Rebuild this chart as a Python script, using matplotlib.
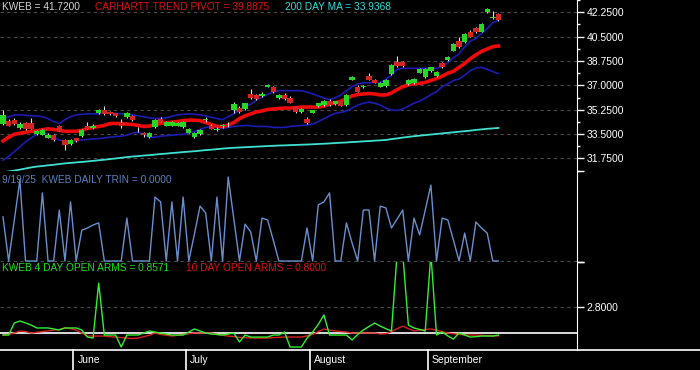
import matplotlib
matplotlib.use("Agg")
import matplotlib.pyplot as plt
from matplotlib.lines import Line2D

plt.rcParams['font.family'] = ['Liberation Sans', 'DejaVu Sans']

# ---- data (one value per trading day, 13 May .. 19 Sep 2025) ----
opens = [34.25, 34.46, 34.50, 33.95, 34.30, 34.30, 33.50, 33.45, 33.25, 33.40,
         34.05, 33.07, 32.80, 33.20, 33.35, 34.10, 33.97, 35.00, 35.20, 35.10,
         35.00, 34.30, 34.70, 34.80, 33.82, 33.60, 33.30, 34.00, 34.60, 34.10,
         34.10, 34.10, 34.00, 33.60, 33.30, 33.50, 34.52, 34.10, 33.82, 34.05,
         34.12, 35.25, 35.40, 35.30, 36.40, 36.30, 36.20, 36.90, 36.90, 36.10,
         36.30, 36.10, 35.50, 35.10, 34.60, 35.05, 35.50, 35.60, 35.90, 35.65,
         35.85, 35.60, 37.40, 36.90, 36.85, 37.70, 37.40, 36.90, 36.95, 37.80,
         38.70, 38.70, 37.10, 37.15, 37.90, 37.60, 38.00, 37.65, 38.60, 38.80,
         39.50, 40.15, 40.10, 40.85, 41.15, 40.85, 42.25, 41.80, 42.10]
highs = [35.20, 34.60, 34.62, 34.35, 34.40, 34.65, 33.80, 33.85, 33.55, 33.50,
         34.15, 33.15, 33.15, 33.25, 33.85, 34.40, 34.20, 35.30, 35.50, 35.15,
         35.05, 34.55, 35.10, 34.90, 34.00, 33.65, 33.65, 34.55, 34.75, 34.45,
         34.45, 34.35, 34.45, 33.95, 33.65, 33.85, 34.70, 34.20, 34.00, 34.25,
         34.35, 35.80, 35.50, 35.75, 36.75, 36.35, 36.50, 37.10, 36.95, 36.35,
         36.45, 36.20, 35.55, 35.35, 34.70, 35.25, 35.75, 35.95, 36.00, 35.90,
         35.90, 36.40, 37.65, 37.00, 37.00, 37.90, 37.45, 37.25, 37.45, 38.50,
         39.10, 38.75, 37.45, 37.50, 38.25, 38.25, 38.35, 38.00, 38.70, 39.10,
         40.05, 40.50, 40.75, 40.95, 41.20, 41.45, 42.55, 42.30, 42.20]
lows = [34.15, 34.05, 34.15, 33.85, 33.80, 33.85, 33.45, 33.40, 33.20, 33.00,
        33.70, 32.38, 32.75, 32.95, 33.30, 33.85, 33.90, 34.95, 34.90, 34.90,
        34.75, 33.95, 34.65, 34.45, 33.65, 33.30, 33.25, 33.95, 34.35, 34.05,
        34.05, 34.05, 33.95, 33.55, 33.25, 33.45, 34.40, 33.85, 33.70, 33.95,
        34.00, 35.05, 35.00, 35.25, 36.05, 35.95, 36.15, 36.85, 36.45, 36.05,
        35.95, 35.70, 35.05, 35.05, 34.25, 35.00, 35.45, 35.55, 35.55, 35.60,
        35.50, 35.55, 37.35, 36.50, 36.80, 37.35, 37.15, 36.85, 36.90, 37.75,
        38.35, 38.35, 37.05, 37.10, 37.85, 37.55, 37.95, 37.60, 38.25, 38.75,
        39.45, 39.70, 40.05, 40.45, 40.75, 40.80, 42.20, 41.75, 41.65]
closes = [34.88, 34.11, 34.20, 34.25, 33.90, 33.90, 33.70, 33.77, 33.45, 33.05,
          33.75, 32.73, 33.07, 33.00, 33.80, 33.90, 34.10, 35.20, 34.95, 34.95,
          34.80, 34.10, 35.00, 34.50, 33.78, 33.40, 33.60, 34.50, 34.40, 34.40,
          34.40, 34.30, 34.40, 33.90, 33.60, 33.80, 34.58, 33.90, 33.88, 34.15,
          34.18, 35.65, 35.10, 35.70, 36.10, 36.00, 36.40, 37.00, 36.50, 36.30,
          36.00, 35.75, 35.10, 35.30, 34.30, 35.20, 35.70, 35.90, 35.60, 35.85,
          35.55, 36.30, 37.60, 36.55, 36.95, 37.40, 37.20, 37.20, 37.40, 38.45,
          38.40, 38.40, 37.40, 37.45, 38.20, 38.20, 38.30, 37.95, 38.30, 39.05,
          40.00, 39.75, 40.70, 40.50, 40.80, 41.40, 42.50, 41.90, 41.72]
trend_pivot = [33.01, 33.28, 33.49, 33.56, 33.63, 33.70, 33.74, 33.81, 33.88, 33.84,
               33.77, 33.70, 33.70, 33.70, 33.77, 33.91, 33.98, 34.05, 34.12, 34.26,
               34.26, 34.26, 34.22, 34.19, 34.12, 34.05, 34.08, 34.19, 34.26, 34.33,
               34.36, 34.40, 34.47, 34.50, 34.50, 34.47, 34.33, 34.19, 34.05, 34.05,
               34.15, 34.33, 34.61, 34.81, 34.95, 35.09, 35.16, 35.27, 35.30, 35.34,
               35.37, 35.37, 35.40, 35.44, 35.44, 35.44, 35.44, 35.51, 35.65, 35.75,
               35.86, 36.03, 36.24, 36.34, 36.38, 36.41, 36.38, 36.31, 36.31, 36.45,
               36.69, 36.90, 37.04, 37.11, 37.14, 37.21, 37.35, 37.49, 37.66, 37.87,
               38.01, 38.29, 38.57, 38.91, 39.19, 39.44, 39.61, 39.78, 39.82]
upper_band = [34.61, 34.74, 34.88, 34.88, 34.85, 34.81, 34.81, 34.74, 34.61, 34.40,
              34.26, 34.54, 34.74, 34.88, 34.92, 34.95, 34.95, 34.95, 35.02, 35.02,
              34.99, 34.95, 34.95, 34.88, 34.81, 34.74, 34.67, 34.61, 34.64, 34.67,
              34.78, 34.88, 34.92, 34.95, 34.92, 34.88, 34.81, 34.71, 34.61, 34.54,
              34.74, 34.95, 35.23, 35.51, 35.65, 35.93, 36.14, 36.36, 36.52, 36.62,
              36.62, 36.62, 36.62, 36.62, 36.52, 36.38, 36.24, 36.10, 35.96, 36.10,
              36.31, 36.62, 36.90, 37.11, 37.18, 37.18, 37.21, 37.21, 37.45, 37.73,
              38.15, 38.22, 38.22, 38.22, 38.22, 38.22, 38.22, 38.22, 38.32, 38.64,
              38.98, 39.26, 39.75, 40.17, 40.37, 40.72, 41.07, 41.49, 41.70]
lower_band = [31.62, 31.90, 32.24, 32.59, 32.94, 33.22, 33.49, 33.63, 33.49, 33.28,
              33.08, 32.94, 32.94, 33.01, 33.08, 33.11, 33.15, 33.18, 33.22, 33.28,
              33.32, 33.35, 33.42, 33.56, 33.63, 33.49, 33.28, 33.28, 33.35, 33.39,
              33.42, 33.46, 33.49, 33.56, 33.70, 33.84, 33.98, 34.05, 33.98, 33.91,
              33.98, 34.05, 34.09, 34.12, 34.09, 34.05, 34.05, 34.05, 33.98, 33.98,
              33.98, 34.05, 34.09, 34.12, 34.15, 34.22, 34.40, 34.61, 34.81, 34.99,
              35.06, 35.16, 35.37, 35.58, 35.72, 35.79, 35.72, 35.58, 35.37, 35.23,
              35.20, 35.30, 35.51, 35.72, 35.86, 36.07, 36.34, 36.55, 36.90, 37.11,
              37.35, 37.45, 37.73, 38.05, 38.25, 38.29, 38.15, 37.98, 37.84]
ma200 = [30.76, 30.82, 30.88, 30.95, 31.03, 31.11, 31.17, 31.21, 31.26, 31.30,
         31.35, 31.40, 31.43, 31.47, 31.50, 31.54, 31.58, 31.62, 31.66, 31.71,
         31.75, 31.80, 31.85, 31.89, 31.92, 31.96, 31.99, 32.03, 32.07, 32.10,
         32.14, 32.17, 32.21, 32.24, 32.27, 32.31, 32.35, 32.38, 32.42, 32.46,
         32.49, 32.52, 32.54, 32.56, 32.58, 32.60, 32.62, 32.64, 32.66, 32.68,
         32.69, 32.71, 32.72, 32.74, 32.75, 32.77, 32.79, 32.81, 32.83, 32.86,
         32.88, 32.90, 32.93, 32.95, 32.98, 33.00, 33.03, 33.05, 33.08, 33.14,
         33.19, 33.25, 33.30, 33.35, 33.39, 33.43, 33.47, 33.51, 33.55, 33.59,
         33.63, 33.67, 33.71, 33.75, 33.80, 33.84, 33.88, 33.91, 33.94]
trin = [1.47, 0.00, 1.35, 2.70, 0.00, 0.00, 0.00, 2.27, 0.00, 0.00,
        1.70, 0.00, 1.97, 0.00, 1.03, 1.10, 1.20, 1.27, 0.00, 0.00,
        0.00, 0.00, 1.43, 0.00, 0.00, 0.00, 0.00, 2.13, 1.97, 0.00,
        1.97, 0.00, 2.13, 0.00, 0.90, 1.83, 1.60, 0.00, 2.13, 0.00,
        2.80, 1.40, 0.00, 1.23, 0.97, 0.00, 1.43, 1.37, 0.70, 0.00,
        0.00, 0.00, 0.00, 0.00, 1.10, 0.00, 1.87, 1.97, 2.27, 0.00,
        0.00, 1.27, 0.60, 0.00, 1.70, 1.70, 0.00, 1.83, 1.77, 1.10,
        1.40, 1.70, 0.00, 1.43, 0.87, 1.70, 2.53, 0.00, 1.43, 1.37,
        0.70, 0.00, 0.93, 0.00, 1.30, 1.10, 0.93, 0.00, 0.00]
arms4 = [0.86, 0.86, 1.69, 1.83, 1.70, 1.55, 1.35, 1.35, 1.35, 1.28,
         1.21, 1.35, 1.35, 1.35, 1.21, 0.72, 0.65, 4.46, 0.86, 0.86,
         0.86, 0.03, 0.86, 0.86, 0.86, 1.00, 1.14, 1.07, 1.00, 0.93,
         0.86, 0.86, 0.86, 1.07, 1.28, 1.14, 1.00, 0.93, 0.90, 0.86,
         0.93, 1.00, 0.38, 0.86, 0.72, 0.72, 0.72, 0.72, 0.86, 0.86,
         1.07, 0.03, 0.03, 0.03, 0.65, 1.07, 1.60, 2.25, 0.86, 0.86,
         0.86, 0.86, 0.52, 0.90, 1.21, 1.45, 1.69, 1.48, 1.30, 1.14,
         6.50, 6.50, 1.55, 1.35, 1.25, 1.14, 6.50, 0.86, 1.07, 0.80,
         0.58, 1.00, 0.86, 0.72, 0.75, 0.79, 0.79, 0.79, 0.86]
arms10 = [0.86, 0.90, 1.00, 1.14, 1.10, 1.00, 1.05, 1.10, 1.15, 1.20,
          1.25, 1.35, 1.30, 1.20, 1.00, 0.79, 0.79, 0.79, 0.79, 0.75,
          0.72, 0.68, 0.65, 0.62, 0.65, 0.75, 0.85, 1.00, 0.90, 0.85,
          0.79, 0.85, 0.90, 0.95, 1.00, 1.00, 1.00, 1.00, 0.90, 0.85,
          0.79, 0.75, 0.70, 0.68, 0.65, 0.65, 0.65, 0.65, 0.68, 0.70,
          0.72, 0.72, 0.72, 0.72, 0.80, 0.90, 1.10, 1.28, 1.20, 1.15,
          1.10, 1.07, 1.00, 1.00, 1.00, 1.00, 1.00, 0.93, 0.95, 1.10,
          1.30, 1.48, 1.30, 1.14, 1.20, 1.25, 1.28, 1.20, 1.10, 1.00,
          0.95, 0.90, 0.88, 0.86, 0.86, 0.84, 0.82, 0.80, 0.80]
month_names = ['June', 'July', 'August', 'September']
month_starts = [13, 33, 55, 76]          # index of first trading day of month
price_ticks = [31.75, 33.5, 35.25, 37.0, 38.75, 40.5, 42.25]

days = list(range(len(closes)))
W, H = 700, 370
BG = 'black'

fig = plt.figure(figsize=(7, 3.7), dpi=100, facecolor=BG)

def panel(top, bottom):
    ax = fig.add_axes([0, 1 - bottom / H, 577 / W, (bottom - top) / H])
    ax.set_facecolor(BG)
    for s in ['left', 'top', 'bottom']:
        ax.spines[s].set_visible(False)
    ax.spines['right'].set_color('white')
    ax.yaxis.tick_right()
    ax.tick_params(axis='y', colors='white', labelsize=7.5, length=5, width=1, pad=2)
    ax.tick_params(axis='y', which='minor', colors='white', length=2.5, width=1)
    ax.tick_params(axis='x', bottom=False, labelbottom=False)
    ax.set_xlim(-0.53, 101.95)
    return ax

# ---- price panel ----
ax1 = panel(0, 172)
ax1.set_ylim(30.78, 42.74)
ax1.set_yticks(price_ticks)
ax1.set_yticklabels(['%.4f' % t for t in price_ticks])
ax1.set_yticks([t + 0.875 for t in price_ticks] + [30.875], minor=True)
for t in price_ticks:
    ax1.axhline(t, color='#4a4a4a', lw=0.8, dashes=(3, 3), zorder=0)

ax1.plot(days, ma200, color='#3fe0d0', lw=1.3, zorder=2)
ax1.plot(days, upper_band, color='#1c1cb4', lw=1.2, zorder=2)
ax1.plot(days, lower_band, color='#1c1cb4', lw=1.2, zorder=2)
ax1.plot(days, trend_pivot, color='#ee0a0a', lw=2.6, zorder=3)

ax1.vlines(days, lows, highs, color='#e0e0e0', lw=0.8, zorder=4)
up = [c >= o for o, c in zip(opens, closes)]
body_bottom = [min(o, c) for o, c in zip(opens, closes)]
body_h = [max(abs(c - o), 0.03) for o, c in zip(opens, closes)]
ax1.bar(days, body_h, bottom=body_bottom, width=0.95,
        color=['#27d627' if u else '#d42424' for u in up], zorder=5, linewidth=0)

# ---- TRIN panel ----
ax2 = panel(171, 262)
ax2.set_ylim(-0.033, 3.0)
ax2.set_yticks([-0.033, 3.0])
ax2.set_yticklabels(['', ''])
ax2.axhline(0, color='#4a4a4a', lw=0.8, dashes=(3, 3), zorder=0)
ax2.plot(days, trin, color='#6a8fd0', lw=1.0)

# ---- OPEN ARMS panel ----
ax3 = panel(262, 350)
ax3.set_ylim(-0.177, 5.92)
ax3.set_yticks([2.8, 5.92])
ax3.set_yticklabels(['2.8000', ''])
ax3.axhline(2.8, color='#4a4a4a', lw=0.8, dashes=(3, 3), zorder=0)
ax3.axhline(1.0, color='white', lw=1.2, zorder=1)
ax3.plot(days, arms10, color='#d42020', lw=1.0, zorder=2)
ax3.plot(days, arms4, color='#33ee33', lw=1.0, zorder=3)

# x axis line and month separators
fig.add_artist(Line2D([0, 1], [1 - 350 / H, 1 - 350 / H], color='white', lw=1.2))
for m, name in zip(month_starts, month_names):
    ax3.axvline(m - 0.5, ymin=-20 / 88, ymax=0, color='white', lw=1.2, clip_on=False)
    ax3.text(m - 0.5 + 0.7, -10 / 88, name, transform=ax3.get_xaxis_transform(),
             color='white', fontsize=7.5, va='center', ha='left')

# ---- legend texts ----
def label(x, y, s, c):
    fig.text(x / W, 1 - y / H, s, color=c, fontsize=7.3, va='center', ha='left')

label(2, 7, 'KWEB = 41.7200', '#d8d8d8')
label(95, 7, 'CARHARTT TREND PIVOT = 39.8875', '#dd1111')
label(285, 7, '200 DAY MA = 33.9368', '#33dddd')
label(2, 180, '9/19/25  KWEB DAILY TRIN = 0.0000', '#5a7fc0')
label(2, 268, 'KWEB 4 DAY OPEN ARMS = 0.8571', '#22dd22')
label(186, 268, '10 DAY OPEN ARMS = 0.8000', '#dd1111')

fig.savefig('out.png', dpi=100, facecolor=BG)
